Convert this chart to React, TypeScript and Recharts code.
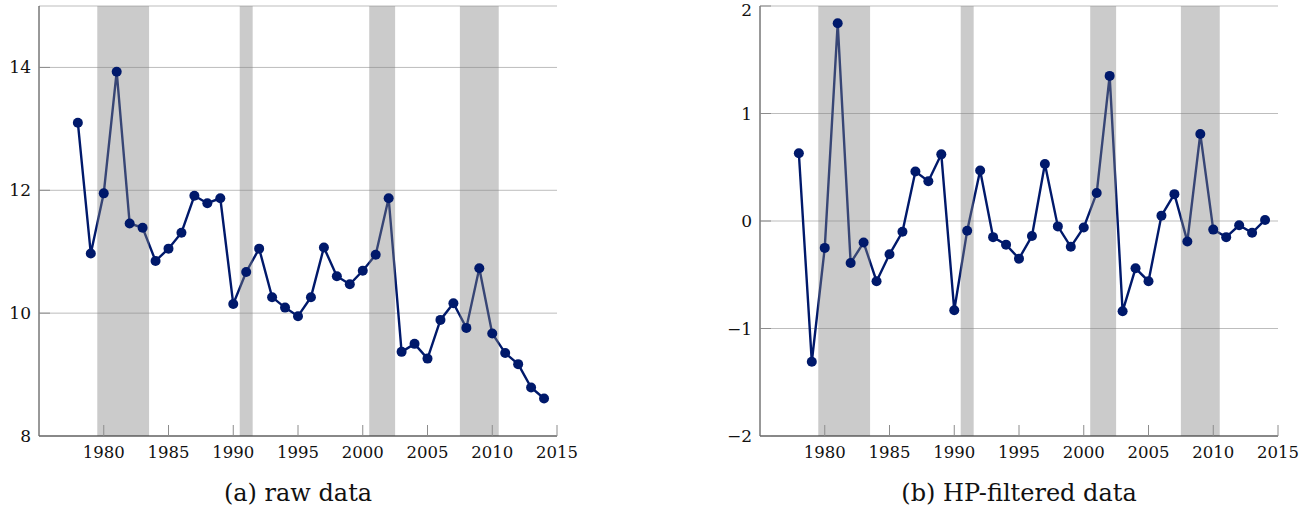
import React from 'react';
import { LineChart, Line, XAxis, YAxis, CartesianGrid, ReferenceArea } from 'recharts';

const years = [
  1978, 1979, 1980, 1981, 1982, 1983, 1984, 1985, 1986, 1987, 1988, 1989,
  1990, 1991, 1992, 1993, 1994, 1995, 1996, 1997, 1998, 1999, 2000, 2001,
  2002, 2003, 2004, 2005, 2006, 2007, 2008, 2009, 2010, 2011, 2012, 2013, 2014,
];

const rawValues = [
  13.10, 10.97, 11.95, 13.93, 11.46, 11.39, 10.85, 11.05, 11.31, 11.91, 11.79, 11.87,
  10.15, 10.67, 11.05, 10.26, 10.09, 9.95, 10.26, 11.07, 10.60, 10.47, 10.69, 10.95,
  11.87, 9.37, 9.50, 9.26, 9.89, 10.16, 9.76, 10.73, 9.67, 9.35, 9.17, 8.79, 8.61,
];

const hpValues = [
  0.63, -1.31, -0.25, 1.84, -0.39, -0.20, -0.56, -0.31, -0.10, 0.46, 0.37, 0.62,
  -0.83, -0.09, 0.47, -0.15, -0.22, -0.35, -0.14, 0.53, -0.05, -0.24, -0.06, 0.26,
  1.35, -0.84, -0.44, -0.56, 0.05, 0.25, -0.19, 0.81, -0.08, -0.15, -0.04, -0.11, 0.01,
];

const recessionStart = [1979.5, 1990.5, 2000.5, 2007.5];
const recessionEnd = [1983.5, 1991.5, 2002.5, 2010.5];

const yearTicks = [1980, 1985, 1990, 1995, 2000, 2005, 2010, 2015];
const rawTicks = [8, 10, 12, 14];
const hpTicks = [-2, -1, 0, 1, 2];

const NAVY = '#00196b';
const FONT = 'DejaVu Serif, serif';

const rawData = years.map((year, i) => ({ year, value: rawValues[i] }));
const hpData = years.map((year, i) => ({ year, value: hpValues[i] }));

const fmt = (v: number) => (v < 0 ? `\u2212${-v}` : `${v}`);
const tickStyle = { fontFamily: FONT, fontSize: 16.5, fill: '#111' };

interface PanelProps {
  data: { year: number; value: number }[];
  yDomain: [number, number];
  yTicks: number[];
  yAxisWidth: number;
  width: number;
  left: number;
  caption: string;
}

const Panel: React.FC<PanelProps> = ({ data, yDomain, yTicks, yAxisWidth, width, left, caption }) => {
  const plotWidth = 518;
  const rightMargin = width - yAxisWidth - plotWidth;
  return (
    <div style={{ position: 'absolute', left, top: 0, width, height: 510 }}>
      <LineChart
        width={width}
        height={470}
        data={data}
        margin={{ top: 6, right: rightMargin, left: 0, bottom: 4 }}
      >
        <CartesianGrid vertical={false} stroke="#bdbdbd" strokeWidth={1} />
        <XAxis
          dataKey="year"
          type="number"
          domain={[1975, 2015]}
          ticks={yearTicks}
          allowDataOverflow
          height={30}
          tickSize={-11}
          tickMargin={21}
          tickLine={{ stroke: '#8c8c8c' }}
          axisLine={{ stroke: '#333' }}
          tick={tickStyle}
        />
        <XAxis
          xAxisId="top"
          orientation="top"
          dataKey="year"
          type="number"
          domain={[1975, 2015]}
          ticks={yearTicks}
          allowDataOverflow
          height={0}
          tickSize={-11}
          tickFormatter={() => ''}
          tickLine={{ stroke: '#8c8c8c' }}
          axisLine={{ stroke: '#333' }}
        />
        <YAxis
          type="number"
          domain={yDomain}
          ticks={yTicks}
          allowDataOverflow
          width={yAxisWidth}
          tickSize={-11}
          tickMargin={19}
          tickFormatter={fmt}
          tickLine={{ stroke: '#8c8c8c' }}
          axisLine={{ stroke: '#333' }}
          tick={{ ...tickStyle, fontSize: 17 }}
        />
        <YAxis
          yAxisId="right"
          orientation="right"
          type="number"
          domain={yDomain}
          ticks={yTicks}
          allowDataOverflow
          width={0}
          tickSize={-11}
          tickFormatter={() => ''}
          tickLine={{ stroke: '#8c8c8c' }}
          axisLine={{ stroke: '#333' }}
        />
        <Line
          dataKey="value"
          stroke={NAVY}
          strokeWidth={2.4}
          dot={false}
          activeDot={false}
          isAnimationActive={false}
          zIndex={400}
        />
        {recessionStart.map((s, i) => (
          <ReferenceArea
            key={s}
            x1={s}
            x2={recessionEnd[i]}
            fill="#848484"
            fillOpacity={0.42}
            stroke="none"
            zIndex={450}
          />
        ))}
        <Line
          dataKey="value"
          stroke="none"
          dot={{ r: 5, fill: NAVY, stroke: NAVY, strokeWidth: 0 }}
          activeDot={false}
          isAnimationActive={false}
          zIndex={460}
        />
      </LineChart>
      <div
        style={{
          position: 'absolute',
          left: yAxisWidth,
          width: plotWidth,
          top: 480,
          textAlign: 'center',
          fontFamily: FONT,
          fontSize: 24,
          lineHeight: '27px',
          color: '#111',
          whiteSpace: 'nowrap',
        }}
      >
        {caption}
      </div>
    </div>
  );
};

const App: React.FC = () => (
  <div style={{ position: 'absolute', left: 0, top: 0, width: 1314, height: 510, overflow: 'hidden', background: '#fff' }}>
    <Panel data={rawData} yDomain={[8, 15]} yTicks={rawTicks} yAxisWidth={39} width={600} left={0} caption="(a) raw data" />
    <Panel data={hpData} yDomain={[-2, 2]} yTicks={hpTicks} yAxisWidth={60} width={614} left={700} caption="(b) HP-filtered data" />
  </div>
);

export default App;
